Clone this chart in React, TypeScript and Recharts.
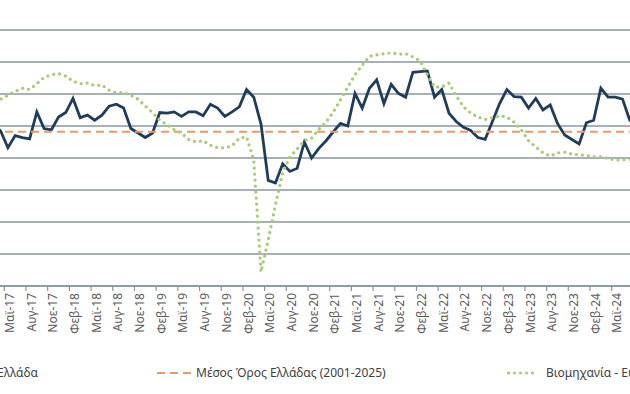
import { LineChart, Line, XAxis, YAxis, CartesianGrid, ReferenceLine } from "recharts";

// Δείκτης βιομηχανίας: Ελλάδα vs Ευρωζώνη, μηνιαία Ιαν-17 .. Αυγ-24
const MONTHS = ["Ιαν", "Φεβ", "Μαρ", "Απρ", "Μαϊ", "Ιουν", "Ιουλ", "Αυγ", "Σεπ", "Οκτ", "Νοε", "Δεκ"];
const YEARS = ["17", "18", "19", "20", "21", "22", "23", "24"];
const CATEGORIES = YEARS.flatMap((y) => MONTHS.map((m) => `${m}-${y}`)).slice(0, 92);
const TICK_LABELS = CATEGORIES.filter((_, i) => i % 3 === 1);

const GREECE = [
  95.6, 95.0, 95.3, 94.2, 91.6, 93.5, 93.2, 93.0, 97.2, 94.6, 94.4, 96.4,
  97.1, 99.3, 96.3, 96.7, 95.9, 96.7, 98.1, 98.4, 97.8, 94.6, 93.9, 93.2,
  93.9, 97.1, 97.0, 97.2, 96.5, 97.2, 97.2, 96.6, 98.4, 97.8, 96.5, 97.2,
  98.0, 100.7, 99.5, 95.3, 86.5, 86.1, 89.1, 87.9, 88.4, 92.5, 90.0, 91.5,
  92.7, 94.1, 95.4, 95.0, 100.1, 97.8, 100.9, 102.2, 98.5, 101.5, 100.1, 99.5,
  103.4, 103.5, 103.6, 99.5, 100.7, 97.0, 95.7, 94.8, 94.3, 93.2, 92.9, 95.7,
  98.5, 100.7, 99.6, 99.5, 97.8, 99.3, 97.5, 98.3, 95.4, 93.6, 92.9, 92.2,
  95.5, 95.9, 100.9, 99.5, 99.5, 99.2, 95.9, 95.2,
];

const EUROZONE = [
  97.8, 98.4, 98.8, 99.2, 99.8, 100.4, 100.9, 100.7, 101.6, 102.6, 103.0, 103.2,
  102.8, 102.0, 101.6, 101.7, 101.3, 101.4, 100.6, 100.2, 100.2, 99.8, 99.2, 98.1,
  97.1, 95.9, 95.2, 94.4, 93.9, 92.9, 92.5, 92.7, 92.0, 91.6, 91.6, 91.9,
  93.1, 93.3, 89.7, 72.2, 77.2, 82.7, 87.7, 90.2, 91.4, 92.7, 93.1, 94.5,
  95.6, 97.2, 99.1, 101.1, 103.0, 104.5, 105.9, 106.1, 106.3, 106.4, 106.2, 106.3,
  105.8, 105.2, 103.0, 101.1, 101.1, 101.7, 99.7, 98.0, 97.0, 96.4, 96.0, 96.3,
  96.6, 96.4, 95.6, 94.4, 92.7, 91.7, 90.8, 90.3, 90.8, 90.9, 90.6, 90.5,
  90.4, 90.2, 90.2, 89.9, 89.7, 89.7, 89.8, 90.0,
];

const GREECE_MEAN = 94.1;
const Y_TICKS = [70, 75, 80, 85, 90, 95, 100, 105, 110];

const data = CATEGORIES.map((m, i) => ({ m, gr: GREECE[i], ez: EUROZONE[i] }));

const AXIS_Y = 286;
const STEP = 658 / 91;
const GRID = "#8796a1";
const FONT = "'Noto Sans', sans-serif";

function AxisTick(props: any) {
  const { x, payload } = props;
  return (
    <g>
      <line x1={x - STEP / 2} x2={x - STEP / 2} y1={AXIS_Y} y2={AXIS_Y + 5} stroke={GRID} strokeWidth={1.2} />
      <text
        transform={`translate(${x},${AXIS_Y + 7}) rotate(-90)`}
        textAnchor="end"
        dy="0.5em"
        fontSize={12}
        fontFamily={FONT}
        fill="#5a5a5a"
      >
        {payload.value}
      </text>
    </g>
  );
}

const legendText: React.CSSProperties = { fontSize: 12, color: "#404040", fontFamily: FONT };

export default function App() {
  return (
    <div style={{ position: "fixed", left: 0, top: 0, width: 630, height: 394, overflow: "hidden", background: "#fff" }}>
      <div style={{ position: "absolute", left: -20.6, top: 0 }}>
        <LineChart width={658} height={394} data={data} margin={{ top: 30, right: 0, bottom: 48, left: 0 }}>
          <CartesianGrid vertical={false} stroke={GRID} strokeWidth={1.4} />
          <XAxis
            dataKey="m"
            ticks={TICK_LABELS}
            interval={0}
            height={60}
            tickLine={false}
            axisLine={{ stroke: GRID, strokeWidth: 1.4 }}
            tick={<AxisTick />}
          />
          <YAxis hide width={0} domain={[70, 110]} ticks={Y_TICKS} />
          <Line dataKey="gr" stroke="#1f3b5e" strokeWidth={2.8} dot={false} activeDot={false} isAnimationActive={false} strokeLinejoin="miter" />
          <ReferenceLine y={GREECE_MEAN} stroke="#ec9a63" strokeWidth={2} strokeDasharray="8 5" />
          <Line
            dataKey="ez"
            stroke="#a6cd72"
            strokeWidth={3.2}
            strokeDasharray="0.01 6"
            strokeLinecap="round"
            dot={false}
            activeDot={false}
            isAnimationActive={false}
          />
        </LineChart>
      </div>

      <div style={{ position: "absolute", right: 592, top: 364, whiteSpace: "nowrap", display: "flex", alignItems: "center", gap: 4 }}>
        <svg width={36} height={10}>
          <line x1={0} x2={36} y1={5} y2={5} stroke="#1f3b5e" strokeWidth={2.8} />
        </svg>
        <span style={legendText}>Βιομηχανία - Ελλάδα</span>
      </div>
      <div style={{ position: "absolute", left: 157, top: 364, whiteSpace: "nowrap", display: "flex", alignItems: "center", gap: 3 }}>
        <svg width={36} height={10}>
          <line x1={0} x2={36} y1={5} y2={5} stroke="#ec9a63" strokeWidth={2} strokeDasharray="8 5" />
        </svg>
        <span style={legendText}>Μέσος Όρος Ελλάδας (2001-2025)</span>
      </div>
      <div style={{ position: "absolute", left: 507, top: 364, whiteSpace: "nowrap", display: "flex", alignItems: "center", gap: 9 }}>
        <svg width={30} height={10}>
          <line x1={1.5} x2={29} y1={5} y2={5} stroke="#a6cd72" strokeWidth={3.2} strokeDasharray="0.01 6" strokeLinecap="round" />
        </svg>
        <span style={legendText}>Βιομηχανία - Ευρωζώνη</span>
      </div>
    </div>
  );
}
